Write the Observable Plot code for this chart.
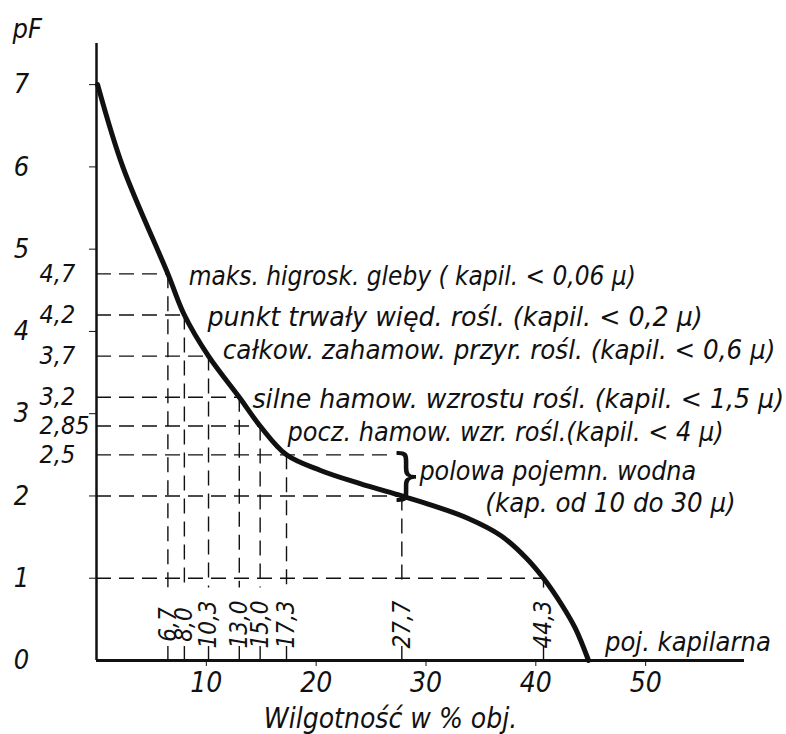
<!DOCTYPE html>
<html>
<head>
<meta charset="utf-8">
<script src="https://cdn.jsdelivr.net/npm/d3@7"></script>
<script src="https://cdn.jsdelivr.net/npm/@observablehq/plot@0.6"></script>
<style>
  html, body { margin: 0; padding: 0; background: #fff; }
  #chart svg { display: block; }
</style>
</head>
<body>
<div id="chart"></div>
<script>
// ---- data ----
// retention curve: moisture (% vol.) vs pF
const curveMoisture = [0.1, 2.4, 6.5, 8.0, 10.2, 13.0, 14.9, 17.3, 20.4, 24.0, 27.8, 30.7, 33.8, 36.8, 39.1, 40.7, 42.3, 43.6, 44.8];
const curvePF       = [7, 6, 4.7, 4.2, 3.7, 3.2, 2.85, 2.5, 2.31, 2.15, 2.0, 1.88, 1.73, 1.52, 1.25, 1.0, 0.69, 0.39, 0];

// marked points on the curve
const markMoisture       = [6.5, 8.0, 10.2, 13.0, 14.9, 17.3, 27.8, 40.7];
const markMoistureLabels = ["6,7", "8,0", "10,3", "13,0", "15,0", "17,3", "27,7", "44,3"];
const markPF             = [4.7, 4.2, 3.7, 3.2, 2.85, 2.5, 2.0, 1.0];
const markHorizontalEnd  = [6.5, 8.0, 10.2, 13.0, 14.9, 27.2, 27.8, 40.7];
const markPFLabels       = ["4,7", "4,2", "3,7", "3,2", "2,85", "2,5"];

// axes
const yTicks = [0, 1, 2, 3, 4, 5, 6, 7];
const xTicks = [10, 20, 30, 40, 50];
const yTitle = "pF";
const xTitle = "Wilgotność w % obj.";

// annotations
const noteTexts = [
  "maks. higrosk. gleby ( kapil. < 0,06 μ)",
  "punkt trwały więd. rośl. (kapil. < 0,2 μ)",
  "całkow. zahamow. przyr. rośl. (kapil. < 0,6 μ)",
  "silne hamow. wzrostu rośl. (kapil. < 1,5 μ)",
  "pocz. hamow. wzr. rośl.(kapil. < 4 μ)",
  "polowa pojemn. wodna",
  "(kap. od 10 do 30 μ)",
  "poj. kapilarna"
];
const noteMoisture    = [8.4, 10.1, 11.5, 14.2, 17.4, 29.4, 35.4, 46.3];
const noteMoistureEnd = [49.1, 55.2, 61.8, 62.6, 57.1, 54.6, 58.2, 61.4];
const notePF          = [4.56, 4.06, 3.67, 3.07, 2.67, 2.19, 1.80, 0.12];
const brace = {text: "}", moisture: 28.2, pF: 2.25};

// ---- build ----
const curve = curveMoisture.map((m, i) => ({m, pf: curvePF[i]}));
const marks = markMoisture.map((m, i) => ({m, pf: markPF[i], hEnd: markHorizontalEnd[i], label: markMoistureLabels[i]}));
const pfLabels = markPFLabels.map((t, i) => ({t, pf: markPF[i]}));
const notes = noteTexts.map((t, i) => ({t, m: noteMoisture[i], mEnd: noteMoistureEnd[i], pf: notePF[i]}));

const FONT = "'Liberation Sans Narrow', 'DejaVu Sans Condensed', 'Liberation Sans', sans-serif";
const dash = "15,8";

const chart = Plot.plot({
  width: 786,
  height: 734,
  marginLeft: 96,
  marginRight: 42,
  marginTop: 43,
  marginBottom: 74,
  x: {domain: [0, 59]},
  y: {domain: [0, 7.5]},
  style: {fontFamily: FONT, fontStyle: "italic", color: "#111", background: "#fff"},
  marks: [
    // dashed guides
    Plot.ruleY(marks, {y: "pf", x1: 0, x2: "hEnd", stroke: "#111", strokeWidth: 1.4, strokeDasharray: dash}),
    Plot.ruleX(marks, {x: "m", y1: "pf", y2: 0.88, stroke: "#111", strokeWidth: 1.4, strokeDasharray: dash}),
    Plot.ruleX(marks, {x: "m", y1: 0, y2: 0.17, stroke: "#111", strokeWidth: 1.4}),
    // axes lines
    Plot.ruleX([0], {stroke: "#111", strokeWidth: 2.5}),
    Plot.ruleY([0], {stroke: "#111", strokeWidth: 3}),
    Plot.axisY(yTicks.filter(d => d > 0), {tickSize: 7, tickFormat: () => "", stroke: "#111"}),
    Plot.text(yTicks, {y: d => d, text: d => String(d), frameAnchor: "left", dx: -75, textAnchor: "middle", fontSize: 27, fill: "#111"}),
    Plot.axisX(xTicks, {tickSize: 6, tickPadding: 6, fontSize: 28, label: null, stroke: "#111", fill: "#111"}),
    // pF labels of the marks
    Plot.text(pfLabels, {y: "pf", text: "t", frameAnchor: "left", dx: -57, textAnchor: "start", fontSize: 25, fill: "#111"}),
    // rotated moisture labels
    Plot.text(marks, {x: "m", text: "label", frameAnchor: "bottom", dy: -36, rotate: -90, textAnchor: "middle", lineAnchor: "middle", fontSize: 24, fill: "#111"}),
    // curve
    Plot.line(curve, {x: "m", y: "pf", curve: "catmull-rom", stroke: "#111", strokeWidth: 5}),
    // annotations
    Plot.text(notes, {x: "m", y: "pf", text: "t", textAnchor: "start", lineAnchor: "bottom", fontSize: 27, fill: "#111", className: "note"}),
    Plot.text([brace], {x: "moisture", y: "pF", text: "text", textAnchor: "middle", lineAnchor: "middle", fontSize: 56, fontStyle: "normal", fontWeight: 300, fill: "#111"}),
    // titles
    Plot.text([yTitle], {frameAnchor: "top-left", dx: -84, dy: -6, textAnchor: "start", lineAnchor: "bottom", fontSize: 27, fill: "#111"}),
    Plot.text([xTitle], {frameAnchor: "bottom", dx: -30, dy: 67, textAnchor: "middle", lineAnchor: "bottom", fontSize: 28, fill: "#111"})
  ]
});

// fit each annotation to its span on the x scale, as in the reference lettering
const xs = chart.scale("x");
d3.select(chart).selectAll("g.note text").each(function(d, i) {
  const n = notes[i];
  if (!n) return;
  const len = xs.apply(n.mEnd) - xs.apply(n.m);
  d3.select(this).attr("textLength", len).attr("lengthAdjust", "spacingAndGlyphs");
});

document.getElementById("chart").appendChild(chart);
</script>
</body>
</html>
